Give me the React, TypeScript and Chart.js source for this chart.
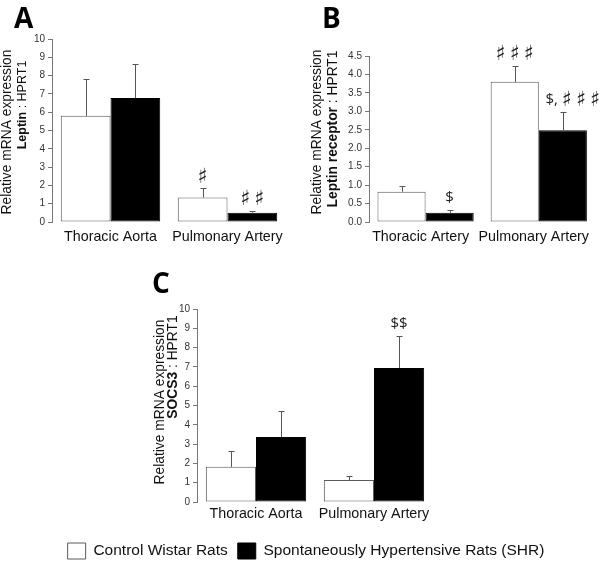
import React, { useEffect, useRef } from "react";
import { Chart, registerables } from "chart.js";

Chart.register(...registerables);

const FONT = "'Liberation Sans', Arial, sans-serif";
const MARK_FONT = "'Open Sans', 'DejaVu Sans', sans-serif";
const SHARP_FONT = "'DejaVu Sans', sans-serif";

const seriesNames = ["Control Wistar Rats", "Spontaneously Hypertensive Rats (SHR)"];
const yTitleTop = "Relative mRNA expression";

// Panel A – Leptin
const categoriesA = ["Thoracic Aorta", "Pulmonary Artery"];
const controlA = [5.8, 1.34];
const controlErrA = [2.0, 0.5];
const shrA = [6.78, 0.51];
const shrErrA = [1.84, 0.09];
const yMaxA = 10;
const yStepA = 1;
const marksA = [
  { series: 0, index: 1, text: "♯" },
  { series: 1, index: 1, text: "♯ ♯" },
];

// Panel B – Leptin receptor
const categoriesB = ["Thoracic Artery", "Pulmonary Artery"];
const controlB = [0.82, 3.8];
const controlErrB = [0.16, 0.43];
const shrB = [0.25, 2.49];
const shrErrB = [0.08, 0.5];
const yMaxB = 4.5;
const yStepB = 0.5;
const marksB = [
  { series: 0, index: 1, text: "♯ ♯ ♯" },
  { series: 1, index: 0, text: "$" },
  { series: 1, index: 1, text: "$, ♯ ♯ ♯", dx: 10 },
];

// Panel C – SOCS3
const categoriesC = ["Thoracic Aorta", "Pulmonary Artery"];
const controlC = [1.82, 1.14];
const controlErrC = [0.81, 0.2];
const shrC = [3.37, 6.94];
const shrErrC = [1.33, 1.66];
const yMaxC = 10;
const yStepC = 1;
const marksC = [{ series: 1, index: 1, text: "$$" }];

type Seg = { t: string; b?: boolean };

function drawRotated(ctx: CanvasRenderingContext2D, segs: Seg[], cx: number, cy: number, size: number) {
  ctx.save();
  ctx.translate(cx, cy);
  ctx.rotate(-Math.PI / 2);
  ctx.textBaseline = "middle";
  ctx.textAlign = "left";
  ctx.fillStyle = "#111";
  const widths = segs.map((s) => {
    ctx.font = `${s.b ? "bold " : ""}${size}px ${FONT}`;
    return ctx.measureText(s.t).width;
  });
  const total = widths.reduce((a, b) => a + b, 0);
  let x = -total / 2;
  segs.forEach((s, i) => {
    ctx.font = `${s.b ? "bold " : ""}${size}px ${FONT}`;
    ctx.fillText(s.t, x, 0);
    x += widths[i];
  });
  ctx.restore();
}

function drawMark(ctx: CanvasRenderingContext2D, text: string, cx: number, cy: number) {
  const chars = Array.from(text);
  const fontFor = (c: string) => (c === "♯" ? `bold 21px ${SHARP_FONT}` : `15px ${MARK_FONT}`);
  const widths = chars.map((c) => {
    ctx.font = fontFor(c);
    return ctx.measureText(c).width;
  });
  const total = widths.reduce((a, b) => a + b, 0);
  let x = cx - total / 2;
  ctx.save();
  ctx.fillStyle = "#222";
  ctx.textAlign = "left";
  ctx.textBaseline = "middle";
  chars.forEach((c, i) => {
    ctx.font = fontFor(c);
    ctx.fillText(c, x, cy + (c === "♯" ? 1 : 0));
    x += widths[i];
  });
  ctx.restore();
}

function makeDecor(p: any) {
  return {
    id: "decor" + p.key,
    afterDatasetsDraw(chart: any) {
      const ctx: CanvasRenderingContext2D = chart.ctx;
      const ys = chart.scales.y;
      chart.data.datasets.forEach((ds: any, di: number) => {
        const meta = chart.getDatasetMeta(di);
        meta.data.forEach((bar: any, i: number) => {
          const top = ys.getPixelForValue(ds.data[i] + ds.errors[i]);
          const x = Math.round(bar.x) + 0.5;
          ctx.save();
          ctx.strokeStyle = "#555";
          ctx.lineWidth = 1;
          ctx.beginPath();
          ctx.moveTo(x, bar.y);
          ctx.lineTo(x, Math.round(top) + 0.5);
          ctx.moveTo(x - 3, Math.round(top) + 0.5);
          ctx.lineTo(x + 3, Math.round(top) + 0.5);
          ctx.stroke();
          ctx.restore();
        });
      });
      p.marks.forEach((m: any) => {
        const ds = chart.data.datasets[m.series];
        const bar = chart.getDatasetMeta(m.series).data[m.index];
        const top = ys.getPixelForValue(ds.data[m.index] + ds.errors[m.index]);
        drawMark(ctx, m.text, bar.x + (m.dx || 0), top - 12);
      });
    },
    afterDraw(chart: any) {
      const ctx: CanvasRenderingContext2D = chart.ctx;
      ctx.save();
      ctx.font = `bold 28px 'Open Sans', ${FONT}`;
      ctx.fillStyle = "#000";
      ctx.textAlign = "left";
      ctx.textBaseline = "alphabetic";
      ctx.fillText(p.letter, p.letterPos[0], p.letterPos[1]);
      ctx.restore();
      drawRotated(ctx, [{ t: yTitleTop }], p.title1[0], p.title1[1], 13.8);
      drawRotated(ctx, p.title2Segs, p.title2[0], p.title2[1], p.title2Size);
    },
  };
}

function buildConfig(p: any) {
  const scales: any = {
    x: {
      grid: { display: false, drawTicks: false },
      border: { display: false },
      ticks: {
        font: { size: 14.3, family: FONT },
        color: "#111",
        padding: p.xPad,
        maxRotation: 0,
        autoSkip: false,
        labelOffset: p.labelOffset || 0,
      },
      afterFit: (s: any) => {
        s.height = p.xHeight;
      },
    },
    y: {
      min: 0,
      max: p.yMax,
      ticks: {
        stepSize: p.yStep,
        font: { size: 10, family: FONT },
        color: "#333",
        padding: 3,
        callback: (v: any) => (p.decimals ? Number(v).toFixed(1) : String(v)),
      },
      grid: { display: true, drawOnChartArea: false, drawTicks: true, tickLength: 4, color: "#777" },
      border: { display: true, color: "#777", width: 1 },
      afterFit: (s: any) => {
        s.width = p.yWidth;
      },
    },
  };
  if (p.rightGap) {
    scales.yR = {
      axis: "y",
      position: "right",
      display: true,
      ticks: { display: false },
      grid: { display: false },
      border: { display: false },
      afterFit: (s: any) => {
        s.width = p.rightGap;
      },
    };
  }
  return {
    type: "bar",
    data: {
      labels: p.categories,
      datasets: [
        {
          label: seriesNames[0],
          data: p.control,
          errors: p.controlErr,
          backgroundColor: "#ffffff",
          borderColor: "#5a5a5a",
          borderWidth: 1,
          borderSkipped: false,
        },
        {
          label: seriesNames[1],
          data: p.shr,
          errors: p.shrErr,
          backgroundColor: "#000000",
          borderColor: "#000000",
          borderWidth: 1,
          borderSkipped: false,
        },
      ],
    },
    options: {
      responsive: false,
      animation: false,
      devicePixelRatio: 1,
      layout: { padding: p.padding },
      datasets: { bar: { categoryPercentage: 0.85, barPercentage: 1 } },
      plugins: {
        tooltip: { enabled: false },
        legend: p.legend
          ? {
              display: true,
              position: "bottom",
              labels: {
                boxWidth: 18,
                boxHeight: 16,
                padding: 10,
                color: "#111",
                font: { size: 15.5, family: FONT },
              },
            }
          : { display: false },
      },
      scales,
    },
    plugins: [makeDecor(p)],
  };
}

const panels = [
  {
    key: "A",
    left: 0,
    top: 0,
    w: 300,
    h: 260,
    categories: categoriesA,
    control: controlA,
    controlErr: controlErrA,
    shr: shrA,
    shrErr: shrErrA,
    yMax: yMaxA,
    yStep: yStepA,
    decimals: false,
    marks: marksA,
    padding: { top: 39, left: 0, right: 14, bottom: 0 },
    yWidth: 52,
    xHeight: 38,
    xPad: 6,
    letter: "A",
    letterPos: [14, 28],
    title1: [7.5, 132],
    title2: [22.5, 105],
    title2Size: 12.5,
    title2Segs: [{ t: "Leptin", b: true }, { t: " : HPRT1" }],
  },
  {
    key: "B",
    left: 300,
    top: 0,
    w: 300,
    h: 260,
    categories: categoriesB,
    control: controlB,
    controlErr: controlErrB,
    shr: shrB,
    shrErr: shrErrB,
    yMax: yMaxB,
    yStep: yStepB,
    decimals: true,
    marks: marksB,
    padding: { top: 56, left: 0, right: 0, bottom: 0 },
    yWidth: 69,
    xHeight: 38,
    xPad: 6,
    labelOffset: -5,
    letter: "B",
    letterPos: [22, 28],
    title1: [17.5, 132],
    title2: [33, 129],
    title2Size: 13.8,
    title2Segs: [{ t: "Leptin receptor", b: true }, { t: " : HPRT1" }],
  },
  {
    key: "C",
    left: 0,
    top: 260,
    w: 600,
    h: 309,
    categories: categoriesC,
    control: controlC,
    controlErr: controlErrC,
    shr: shrC,
    shrErr: shrErrC,
    yMax: yMaxC,
    yStep: yStepC,
    decimals: false,
    marks: marksC,
    padding: { top: 49, left: 12, right: 0, bottom: 0 },
    yWidth: 185,
    rightGap: 167,
    xHeight: 31,
    xPad: 3,
    legend: true,
    letter: "C",
    letterPos: [152, 33],
    title1: [160, 142],
    title2: [173, 107],
    title2Size: 13.8,
    title2Segs: [{ t: "SOCS3", b: true }, { t: " : HPRT1" }],
  },
];

function Panel({ p }: { p: any }) {
  const ref = useRef<HTMLCanvasElement | null>(null);
  useEffect(() => {
    if (!ref.current) return;
    const chart = new Chart(ref.current, buildConfig(p) as any);
    return () => chart.destroy();
  }, []);
  return (
    <canvas
      ref={ref}
      width={p.w}
      height={p.h}
      style={{ position: "absolute", left: p.left, top: p.top, width: p.w, height: p.h, display: "block" }}
    />
  );
}

export default function App() {
  return (
    <div
      style={{
        position: "absolute",
        left: 0,
        top: 0,
        width: 600,
        height: 564,
        overflow: "hidden",
        background: "#fff",
      }}
    >
      {panels.map((p) => (
        <Panel key={p.key} p={p} />
      ))}
    </div>
  );
}
